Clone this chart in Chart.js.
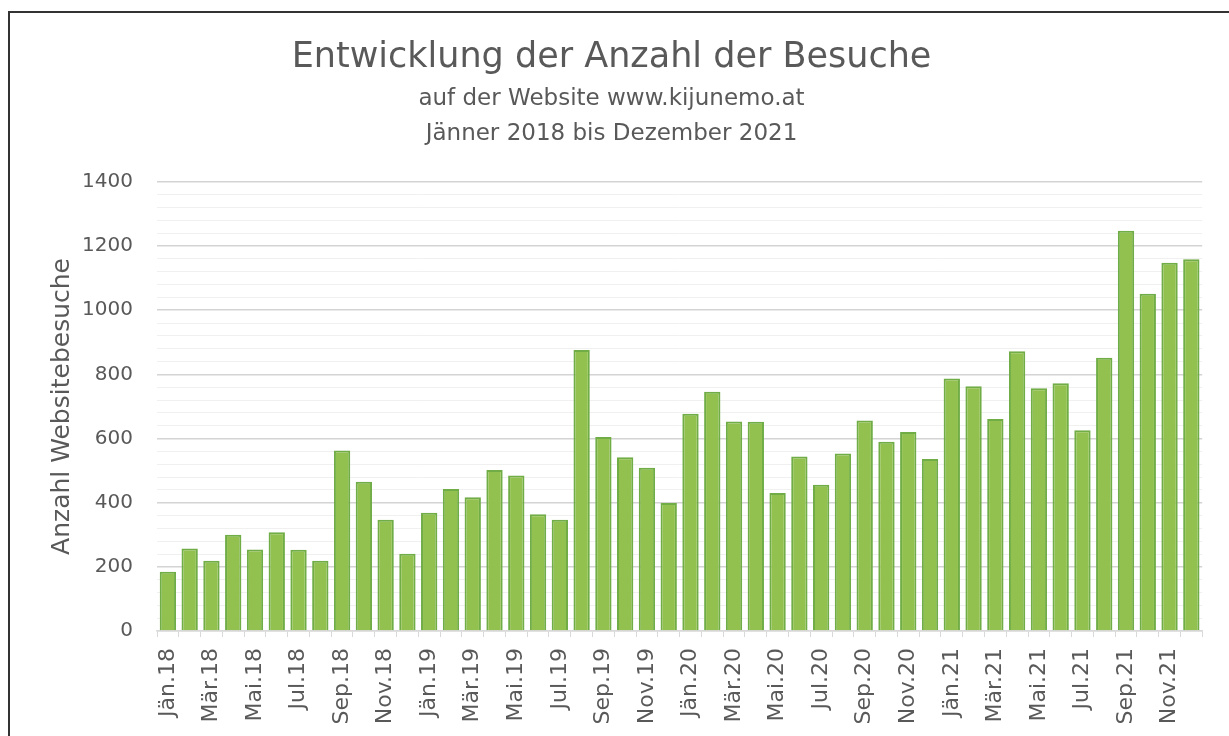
<!DOCTYPE html>
<html lang="de">
<head>
    <meta charset="UTF-8">
    <title>Entwicklung der Anzahl der Besuche</title>
    <style>
        body {
            margin: 0;
            padding: 0;
            background-color: #fff;
            overflow: hidden;
        }

        #rahmen {
            position: absolute;
            left: 8px;
            top: 11px;
            width: 1240px;
            height: 740px;
            border-top: 2px solid #333;
            border-left: 2px solid #333;
        }

        #besucheChart {
            position: absolute;
            left: 0;
            top: 0;
        }
    </style>
    <script src="https://cdn.jsdelivr.net/npm/chart.js"></script>
</head>
<body>
    <div id="rahmen"></div>
    <canvas id="besucheChart" width="1229" height="736"></canvas>

    <script>
        // Monate Jänner 2018 bis Dezember 2021
        const monate = ['Jän', 'Feb', 'Mär', 'Apr', 'Mai', 'Jun', 'Jul', 'Aug', 'Sep', 'Okt', 'Nov', 'Dez'];
        const jahre = ['18', '19', '20', '21'];

        const besuche2018 = [185, 257, 219, 300, 254, 308, 253, 219, 563, 465, 347, 241];
        const besuche2019 = [369, 443, 417, 502, 485, 364, 347, 876, 605, 542, 509, 399];
        const besuche2020 = [677, 746, 653, 652, 430, 544, 456, 553, 656, 590, 620, 536];
        const besuche2021 = [787, 763, 661, 872, 757, 772, 626, 852, 1248, 1051, 1148, 1159];

        const titel = 'Entwicklung der Anzahl der Besuche';
        const untertitel = ['auf der Website www.kijunemo.at', 'Jänner 2018 bis Dezember 2021'];
        const achsenTitel = 'Anzahl Websitebesuche';

        const labels = [];
        jahre.forEach(j => monate.forEach(m => labels.push(m + '.' + j)));
        const werte = [].concat(besuche2018, besuche2019, besuche2020, besuche2021);

        const grau = '#595959';
        const schrift = "'DejaVu Sans', sans-serif";

        const ctx = document.getElementById('besucheChart').getContext('2d');
        new Chart(ctx, {
            type: 'bar',
            data: {
                labels: labels,
                datasets: [{
                    label: achsenTitel,
                    data: werte,
                    backgroundColor: '#93c150',
                    borderColor: '#70ad47',
                    borderWidth: 2,
                    barPercentage: 0.75,
                    categoryPercentage: 1
                }]
            },
            options: {
                responsive: false,
                animation: false,
                layout: {
                    padding: { left: 20, right: 26, top: 0, bottom: 0 }
                },
                plugins: {
                    legend: { display: false },
                    tooltip: { enabled: false },
                    title: {
                        display: true,
                        text: titel,
                        color: grau,
                        font: { family: schrift, size: 35, weight: 'normal', lineHeight: 1.2 },
                        padding: { top: 37, bottom: 0 }
                    },
                    subtitle: {
                        display: true,
                        text: untertitel,
                        color: grau,
                        font: { family: schrift, size: 23, weight: 'normal', lineHeight: 1.52 },
                        padding: { top: 3, bottom: 30 }
                    }
                },
                scales: {
                    x: {
                        afterFit: function(scale) { scale.height = 105; },
                        border: { display: true, color: '#d9d9d9', width: 1.5 },
                        grid: {
                            offset: true,
                            drawOnChartArea: false,
                            drawTicks: true,
                            tickLength: 6,
                            color: '#d9d9d9'
                        },
                        ticks: {
                            autoSkip: false,
                            maxRotation: 90,
                            minRotation: 90,
                            padding: 11,
                            color: grau,
                            font: { family: schrift, size: 22 },
                            callback: function(value, index) {
                                return index % 2 === 0 ? this.getLabelForValue(value) : '';
                            }
                        }
                    },
                    y: {
                        min: 0,
                        max: 1400,
                        afterFit: function(scale) { scale.width = 137; },
                        border: { display: false },
                        grid: {
                            drawTicks: false,
                            color: c => c.tick.value % 200 === 0 ? '#d4d4d4' : '#f0f0f0',
                            lineWidth: c => c.tick.value % 200 === 0 ? 1.5 : 1
                        },
                        ticks: {
                            stepSize: 40,
                            autoSkip: false,
                            padding: 24,
                            color: grau,
                            font: { family: schrift, size: 20 },
                            callback: v => v % 200 === 0 ? v : ''
                        },
                        title: {
                            display: true,
                            text: achsenTitel,
                            color: grau,
                            font: { family: schrift, size: 25, lineHeight: 1.2 },
                            padding: { top: 27, bottom: 0 }
                        }
                    }
                }
            }
        });
    </script>
</body>
</html>
